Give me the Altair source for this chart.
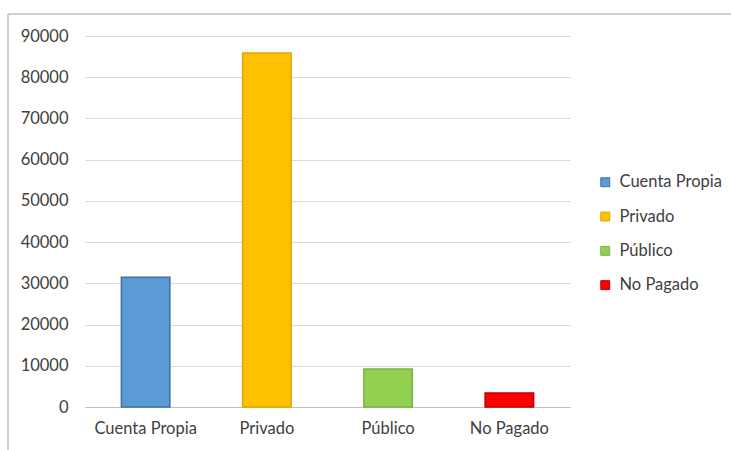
import altair as alt
import pandas as pd

categories = ["Cuenta Propia", "Privado", "Público", "No Pagado"]
values = [31500, 85900, 9200, 3400]
fill_colors = ["#5B9BD5", "#FFC000", "#92D050", "#FF0000"]
stroke_colors = ["#41719C", "#E0A800", "#7CB342", "#C00000"]
y_ticks = [0, 10000, 20000, 30000, 40000, 50000, 60000, 70000, 80000, 90000]

df = pd.DataFrame({"categoria": categories, "valor": values})

FONT = "Lato"
FS = 16.5

legend_cfg = dict(title=None, orient="none", legendX=512, legendY=138,
                  symbolType="square", symbolSize=80,
                  labelFontSize=FS, labelFont=FONT, labelColor="#404040",
                  rowPadding=17.3, labelOffset=6, symbolStrokeWidth=1)

bars = alt.Chart(df).mark_bar(strokeWidth=1.5).encode(
    x=alt.X("categoria:N", sort=categories, title=None,
            scale=alt.Scale(paddingInner=0.6, paddingOuter=0.3),
            axis=alt.Axis(labelAngle=0, ticks=False, domainColor="#bfbfbf",
                          domainWidth=1.2, labelPadding=13, labelFontSize=FS,
                          labelColor="#404040", labelFont=FONT, grid=False)),
    y=alt.Y("valor:Q", title=None,
            scale=alt.Scale(domain=[0, 90000], nice=False),
            axis=alt.Axis(values=y_ticks, format="d", ticks=False, domain=False,
                          labelPadding=17, labelFontSize=FS, labelColor="#404040",
                          labelFont=FONT, gridColor="#d9d9d9", gridWidth=1.2)),
    fill=alt.Fill("categoria:N", sort=categories,
                  scale=alt.Scale(domain=categories, range=fill_colors),
                  legend=alt.Legend(**legend_cfg)),
    stroke=alt.Stroke("categoria:N", sort=categories,
                      scale=alt.Scale(domain=categories, range=stroke_colors),
                      legend=alt.Legend(**legend_cfg)),
)

frame_color = "#d0d0d0"
top_rule = alt.Chart(df).mark_rule(color=frame_color, strokeWidth=2).encode(
    x=alt.value(-77), x2=alt.value(646), y=alt.value(-22)
)
left_rule = alt.Chart(df).mark_rule(color=frame_color, strokeWidth=2).encode(
    x=alt.value(-77), y=alt.value(-22), y2=alt.value(420)
)

chart = alt.layer(bars, top_rule, left_rule).properties(
    width=485, height=371,
    autosize=alt.AutoSizeParams(type="none"),
    padding={"left": 85, "top": 36, "right": 161, "bottom": 43},
    background="white",
).configure_view(stroke=None)

chart.save("out.html", embed_options={"renderer": "svg", "actions": False})
